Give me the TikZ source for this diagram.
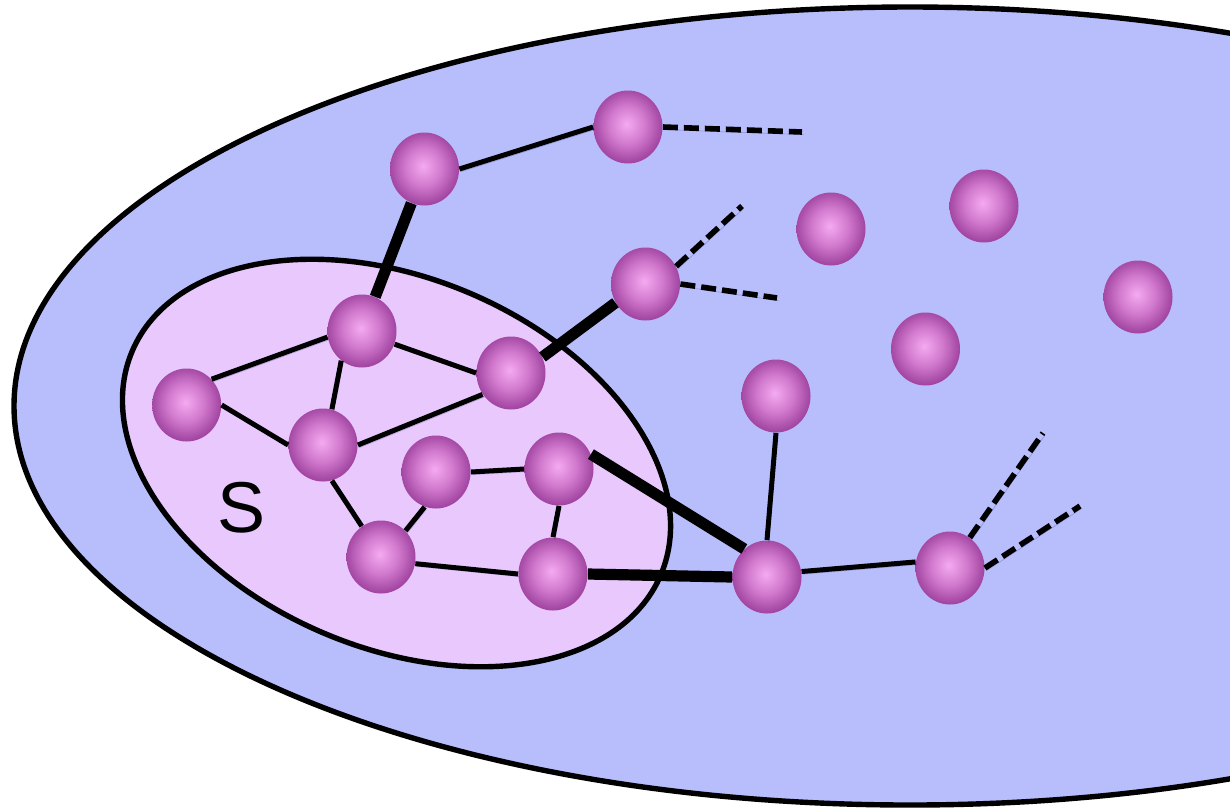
\documentclass[tikz,border=0pt]{standalone}
\usepackage{fontspec}
\usetikzlibrary{shapes.geometric}
\newfontfamily\labelfont{Liberation Sans}
\definecolor{bigfill}{HTML}{B8BEFC}
\definecolor{sfill}{HTML}{E8C8FD}
\definecolor{ballin}{HTML}{F4AAF0}
\definecolor{ballmid}{HTML}{D27ACE}
\definecolor{ballout}{HTML}{A246A2}
\pgfdeclareradialshading{nodeball}{\pgfpoint{-1bp}{2bp}}{color(0bp)=(ballin); color(13bp)=(ballmid); color(25bp)=(ballout); color(50bp)=(ballout)}
\tikzset{
  ball/.style={ellipse, minimum width=34.5pt, minimum height=36.5pt, inner sep=0pt, shading=nodeball},
  lineshadow/.style={preaction={draw, black!60!blue, opacity=0.18, transform canvas={shift={(0.8pt,-1.3pt)}}}},
  thinedge/.style={line width=2.5pt, black, lineshadow},
  thickedge/.style={line width=5.6pt, black, lineshadow},
  dashedge/.style={line width=2.8pt, black, dash pattern=on 7.5pt off 3pt, lineshadow},
  region/.style={line width=2.7pt, draw=black}
}
\begin{document}
\begin{tikzpicture}[x=0.5pt,y=-0.5pt]
\useasboundingbox (0,0) rectangle (1230,810);
\clip (0,0) rectangle (1230,810);
% outer region
\draw[region, fill=bigfill] (910,406) ellipse [x radius=896, y radius=399];
% set S
\draw[region, fill=sfill, rotate around={-22.9:(396.5,463)}] (396.5,463) ellipse [x radius=287, y radius=185];
\node[font=\labelfont\fontsize{36pt}{40pt}\selectfont, inner sep=0pt] (slabel) at (242,508) {S};
% free ends
\coordinate (d2) at (802,132);
\coordinate (d5a) at (742,206);
\coordinate (d5b) at (777,298);
\coordinate (d18a) at (1043,433);
\coordinate (d18b) at (1080,506);
% nodes
\node[ball] (n1) at (424.5,169) {};
\node[ball] (n2) at (628,127) {};
\node[ball] (n3) at (831,229) {};
\node[ball] (n4) at (984,206) {};
\node[ball] (n5) at (645.5,284) {};
\node[ball] (n6) at (1138,297) {};
\node[ball] (n7) at (925.5,349) {};
\node[ball] (n8) at (362,331) {};
\node[ball] (n9) at (511,373) {};
\node[ball] (n10) at (186.7,405) {};
\node[ball] (n11) at (776,396) {};
\node[ball] (n12) at (323,445) {};
\node[ball] (n13) at (436,472) {};
\node[ball] (n14) at (559,469) {};
\node[ball] (n15) at (381,557) {};
\node[ball] (n16) at (553,574) {};
\node[ball] (n17) at (767,577) {};
\node[ball] (n18) at (950,568) {};
% edges
\draw[thinedge] (n1.east) -- (n2.west);
\draw[thickedge] (n1) -- (n8);
\draw[thinedge] (n8.190) -- (n10.46);
\draw[thinedge] (n10.east) -- (n12.west);
\draw[thinedge] (n8.235) -- (n12.76);
\draw[thinedge] (n8.338) -- (n9.west);
\draw[thinedge] (n12.east) -- (n9.217);
\draw[thickedge] (n9.27) -- (n5.212);
\draw[thinedge] (n12.284) -- (n15.122);
\draw[thinedge] (n13.252) -- (n15.47);
\draw[thinedge] (n13.east) -- (n14.west);
\draw[thinedge] (n14.south) -- (n16.north);
\draw[thinedge] (n15.349) -- (n16.west);
\draw[thickedge] (n14.25) -- (n17.129);
\draw[thickedge] (n16.east) -- (n17.west);
\draw[thinedge] (n11.south) -- (n17.north);
\draw[thinedge] (n17.9) -- (n18.170);
\draw[dashedge] (n2.east) -- (d2);
\draw[dashedge] (n5.30) -- (d5a);
\draw[dashedge] (n5.east) -- (d5b);
\draw[dashedge] (n18.57) -- (d18a);
\draw[dashedge] (n18.east) -- (d18b);
\end{tikzpicture}
\end{document}
